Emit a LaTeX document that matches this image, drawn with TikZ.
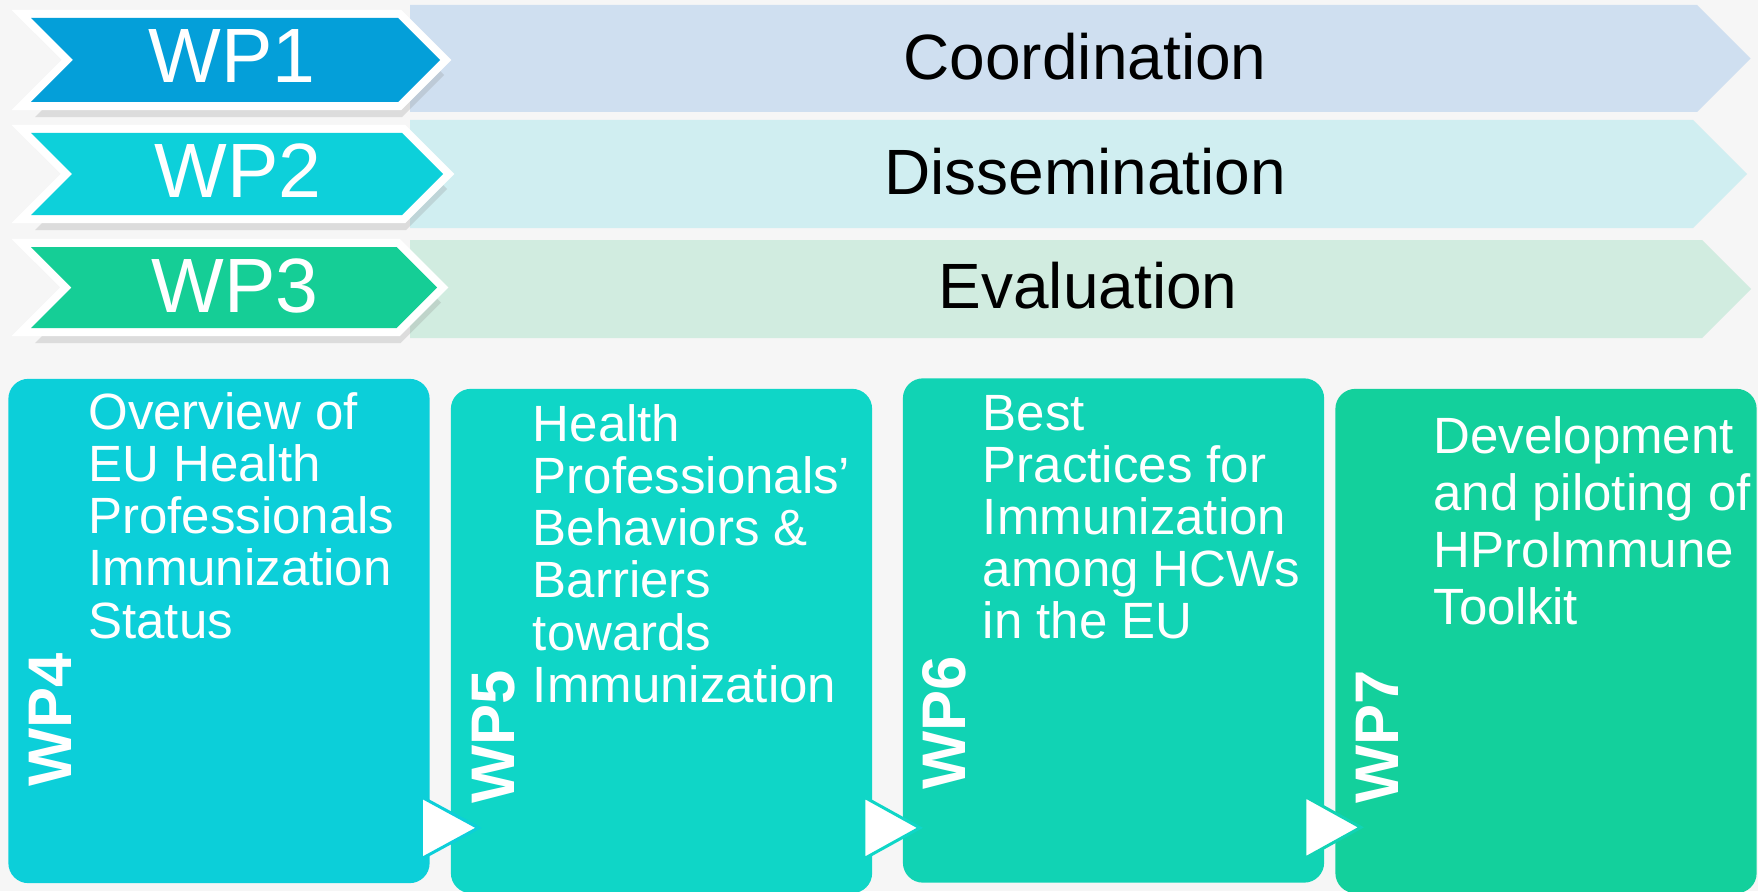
\documentclass[tikz,border=0pt]{standalone}
\usepackage{fontspec}
\setmainfont{Liberation Sans}
\usetikzlibrary{positioning,calc,shadows}

\definecolor{pagebg}{RGB}{246,246,246}
\definecolor{wpone}{RGB}{4,159,217}
\definecolor{wptwo}{RGB}{13,208,218}
\definecolor{wpthree}{RGB}{21,206,150}
\definecolor{lightone}{RGB}{207,223,240}
\definecolor{lighttwo}{RGB}{208,238,241}
\definecolor{lightthree}{RGB}{209,236,224}
\definecolor{wpfour}{RGB}{12,207,217}
\definecolor{wpfive}{RGB}{15,214,199}
\definecolor{wpsix}{RGB}{17,211,180}
\definecolor{wpseven}{RGB}{19,208,156}

\begin{document}
\begin{tikzpicture}[x=0.01cm,y=-0.01cm,
    chevbase/.style={fill=white,draw=white,line width=0.16cm,line join=miter,
      drop shadow={opacity=0.22,shadow xshift=0.04cm,shadow yshift=-0.15cm}},
    bandtext/.style={font=\fontsize{18.2}{20}\selectfont,anchor=base,inner sep=0},
    wptext/.style={text=white,font=\fontsize{21.9}{24}\selectfont,anchor=base,inner sep=0},
    wpbox/.style={rounded corners=0.2cm,minimum width=4.21cm,minimum height=5.04cm,inner sep=0},
    boxtext/.style={text=white,align=left,anchor=north west,inner sep=0,
      font=\fontsize{14.5}{14.8}\selectfont},
    wplabel/.style={text=white,rotate=90,anchor=base west,inner sep=0,
      font=\bfseries\fontsize{17.5}{20}\selectfont},
    steptri/.style={fill=white,line width=0.03cm,line join=miter}]
  \useasboundingbox (0,0) rectangle (1758,891);
  \fill[pagebg] (0,0) rectangle (1758,891);

  % light bands behind the top row
  \foreach \col/\ya/\yb/\xc in {lightone/5/112/1697,lighttwo/120/228/1693,lightthree/240/338/1702}{
    \pgfmathsetmacro\ym{(\ya+\yb)/2}
    \fill[\col] (410,\ya) -- (\xc,\ya) -- ({\xc+(\yb-\ya)/2},\ym) -- (\xc,\yb) -- (410,\yb) -- cycle;
  }

  % WP1-WP3 chevrons
  \foreach \col/\ya/\yb/\xt in {wpone/18/102/440,wptwo/133/215/443,wpthree/247/328/437}{
    \pgfmathsetmacro\ym{(\ya+\yb)/2}
    \pgfmathsetmacro\hh{(\yb-\ya)/2}
    \path[chevbase] (31,\ya) -- ({\xt-\hh},\ya) -- (\xt,\ym) -- ({\xt-\hh},\yb) -- (31,\yb) -- ({31+\hh},\ym) -- cycle;
    \fill[\col] (31,\ya) -- ({\xt-\hh},\ya) -- (\xt,\ym) -- ({\xt-\hh},\yb) -- (31,\yb) -- ({31+\hh},\ym) -- cycle;
  }

  \node[wptext] (wp1) at (232,83) {WP1};
  \node[wptext] (wp2) at (238,198) {WP2};
  \node[wptext] (wp3) at (235,312) {WP3};
  \node[bandtext] (coord) at (1085,80) {Coordination};
  \node[bandtext] (dissem) at (1085,195) {Dissemination};
  \node[bandtext] (eval) at (1088,308) {Evaluation};

  % WP4-WP7 boxes
  \node[wpbox,fill=wpfour] (box4) at (219,631) {};
  \node[wpbox,fill=wpfive] (box5) at (661.5,641) {};
  \node[wpbox,fill=wpsix] (box6) at (1113.5,630.5) {};
  \node[wpbox,fill=wpseven] (box7) at (1546,641) {};

  \node[wplabel] (lab4) at ([xshift=0.64cm,yshift=-4.09cm]box4.north west) {WP4};
  \node[wplabel] (lab5) at ([xshift=0.64cm,yshift=-4.16cm]box5.north west) {WP5};
  \node[wplabel] (lab6) at ([xshift=0.63cm,yshift=-4.12cm]box6.north west) {WP6};
  \node[wplabel] (lab7) at ([xshift=0.64cm,yshift=-4.16cm]box7.north west) {WP7};

  \node[boxtext] (txt4) at ([xshift=0.80cm,yshift=-0.14cm]box4.north west)
    {Overview of\\EU Health\\Professionals\\Immunization\\Status};
  \node[boxtext] (txt5) at ([xshift=0.82cm,yshift=-0.16cm]box5.north west)
    {Health\\Professionals’\\Behaviors \&\\Barriers\\towards\\Immunization};
  \node[boxtext] (txt6) at ([xshift=0.80cm,yshift=-0.17cm]box6.north west)
    {Best\\Practices for\\Immunization\\among HCWs\\in the EU};
  \node[boxtext,font=\fontsize{14.5}{16.2}\selectfont] (txt7) at ([xshift=0.98cm,yshift=-0.28cm]box7.north west)
    {Development\\and piloting of\\HProImmune\\Toolkit};

  % step arrows between boxes
  \draw[steptri,draw=wpfour] ($(box4.south east)+(-9,-87)$) -- ++(0,62) -- ++(57,-31) -- cycle;
  \draw[steptri,draw=wpfive] ($(box5.south east)+(-9,-97)$) -- ++(0,62) -- ++(56,-31) -- cycle;
  \draw[steptri,draw=wpsix] ($(box6.south east)+(-20,-87)$) -- ++(0,62) -- ++(56,-31) -- cycle;
\end{tikzpicture}
\end{document}
